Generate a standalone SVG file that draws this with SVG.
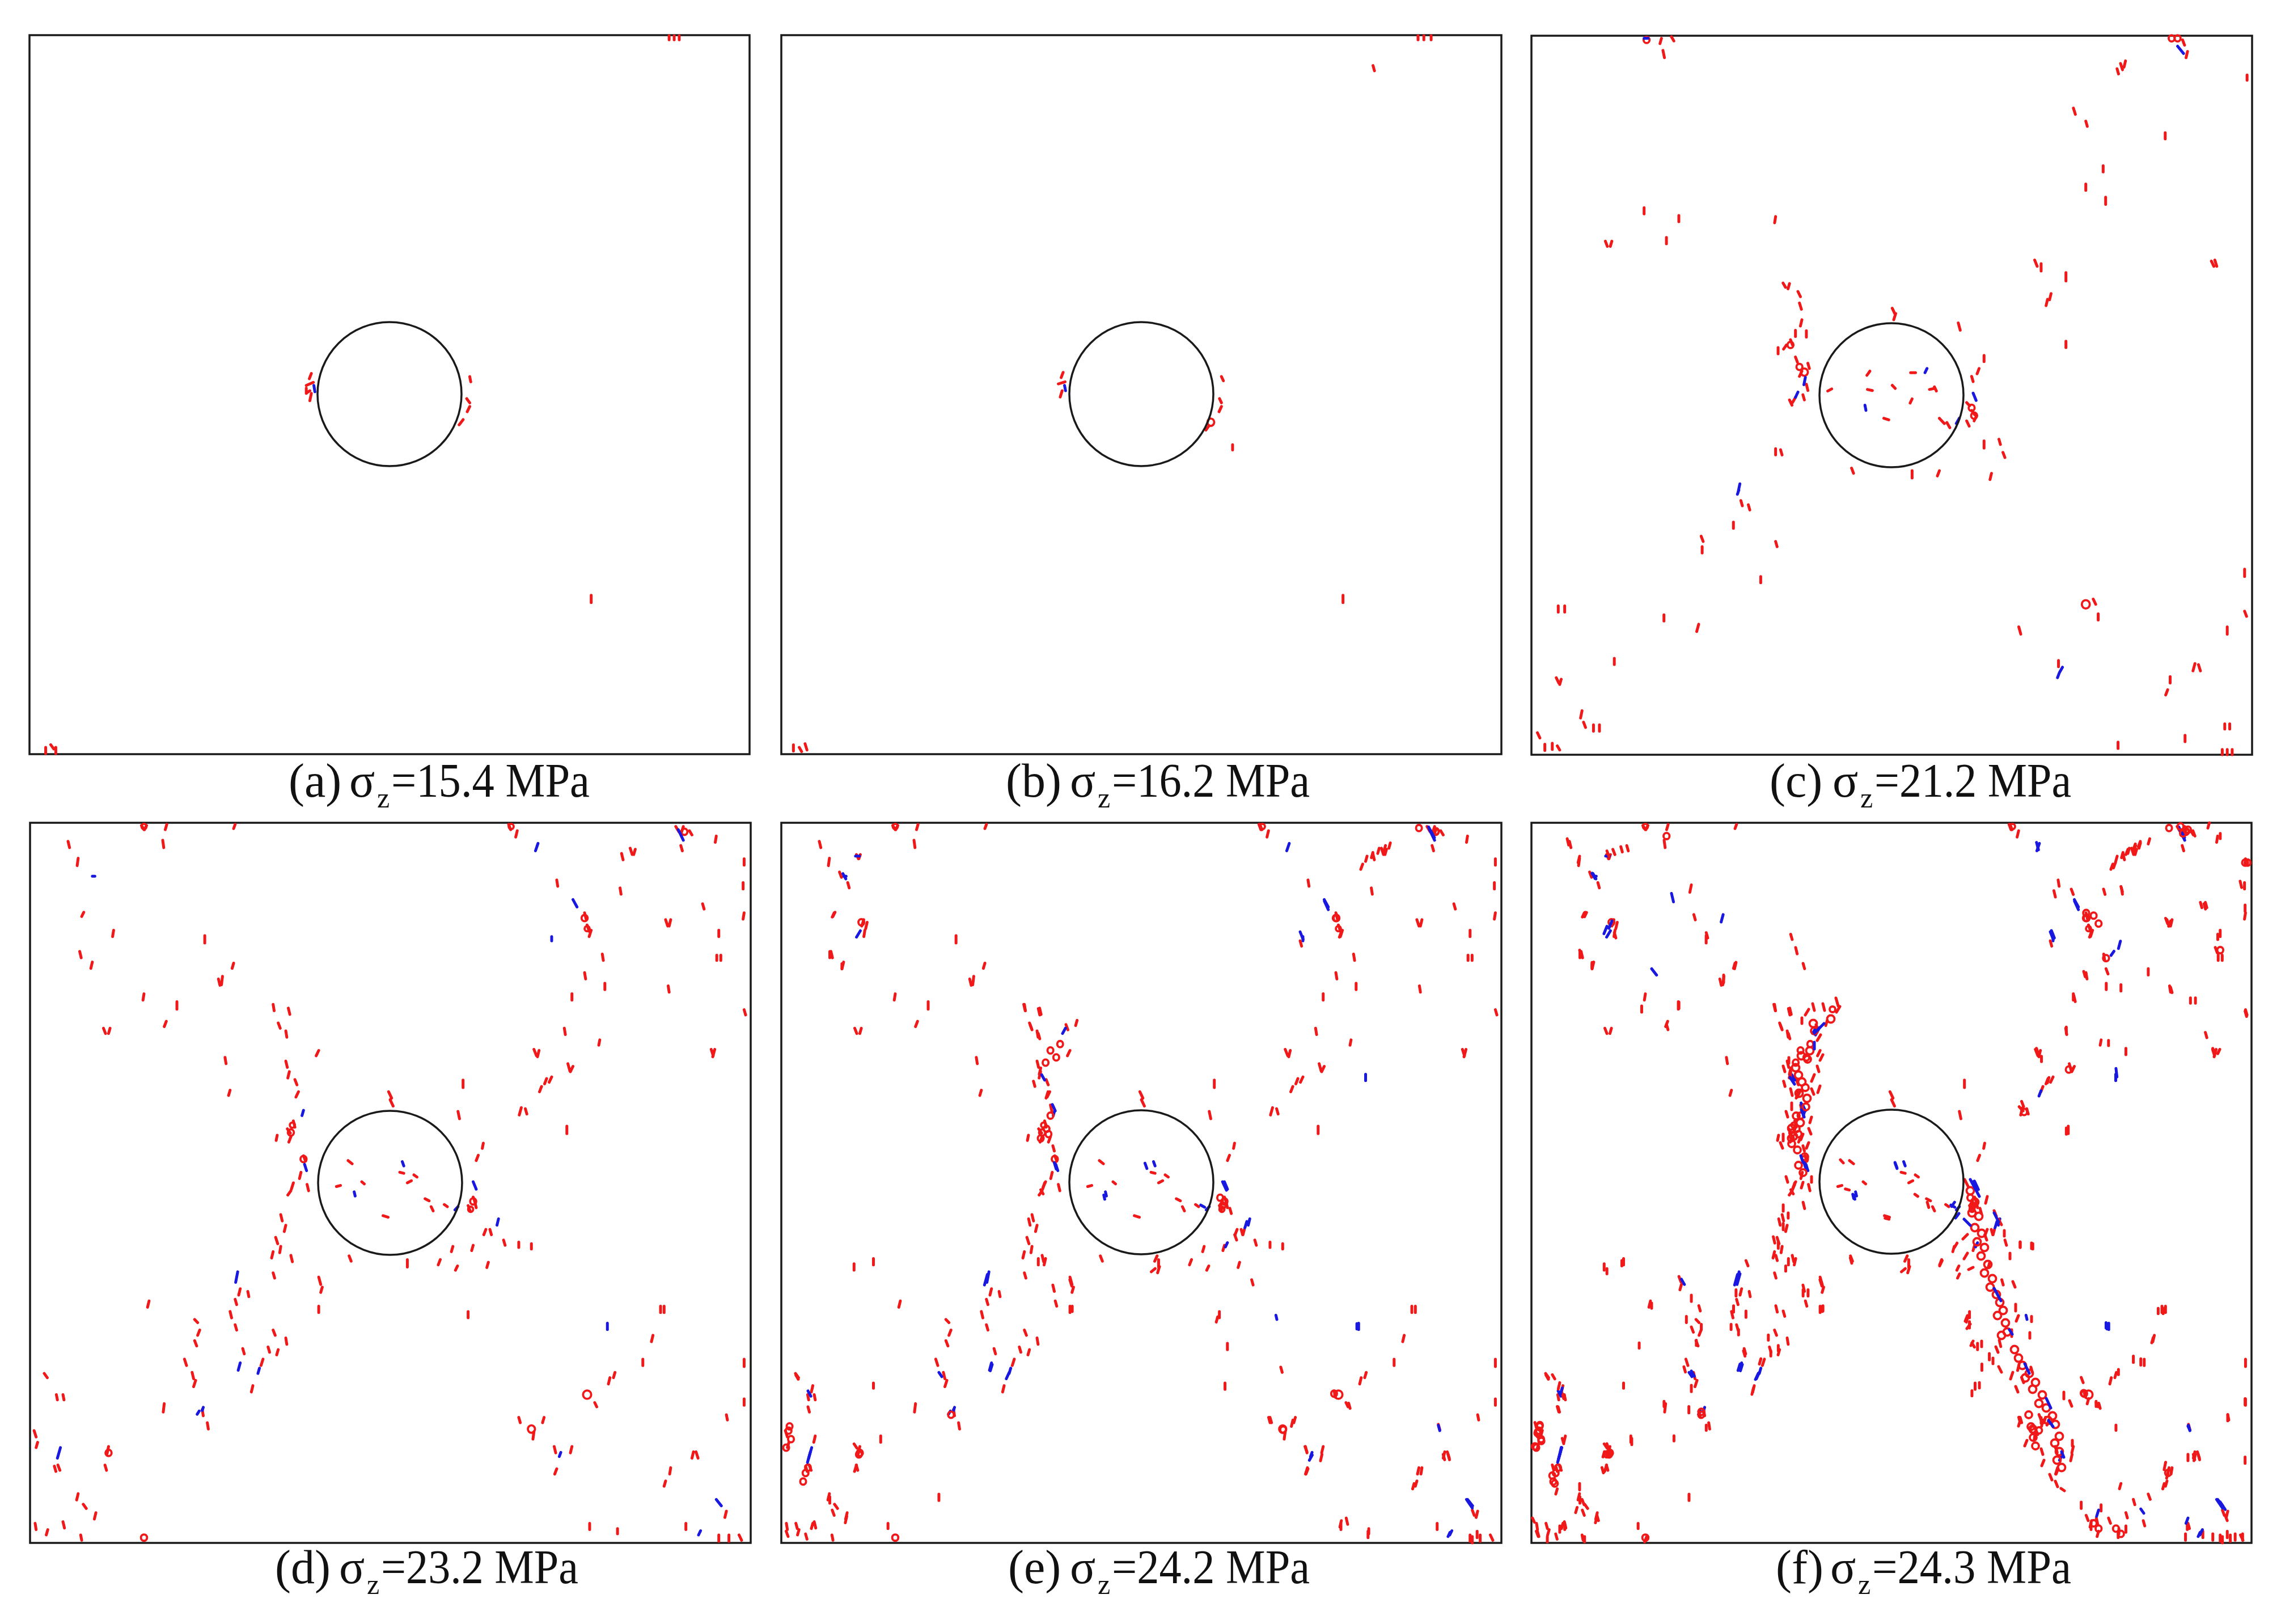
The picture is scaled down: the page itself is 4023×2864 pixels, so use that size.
<svg xmlns="http://www.w3.org/2000/svg" xmlns:xlink="http://www.w3.org/1999/xlink" width="4023" height="2864" viewBox="0 0 4023 2864">
<style>
.fr{fill:none;stroke:#1a1a1a;stroke-width:3.5}
.hole{fill:none;stroke:#1a1a1a;stroke-width:3.5}
.r{fill:none;stroke:#f01818;stroke-width:5;stroke-linecap:round;stroke-linejoin:round;vector-effect:non-scaling-stroke}
.b{fill:none;stroke:#1818e0;stroke-width:5;stroke-linecap:round;vector-effect:non-scaling-stroke}
.o circle{fill:none;stroke:#f01818;stroke-width:3.8;vector-effect:non-scaling-stroke}
.lbl{font-family:"Liberation Serif","Times New Roman",serif;font-size:84px;fill:#111}
.sub{font-size:50px}
</style>
<defs>
<g id="crD">
<path class="r" d="M280 60l5 8M290 60l-4 8M330 58l-3 10M322 88l2 14M465 58l-3 8M1005 58l4 10M1022 70l-3 12M1335 62l6 10M1350 62l-4 12M1362 70l5 8M1345 98l3 10M1415 80l-2 12M135 90l3 12M155 122l-2 14M162 232l4 -8M225 258l-2 12M158 298l3 12M183 318l-3 12M405 268l0 14M440 345l-2 16M432 350l3 12M462 320l-3 10M285 378l-2 12M350 393l0 14M325 440l4 -10M205 443l4 10M218 443l-3 10M540 398l2 12M570 405l3 12M550 433l4 10M565 448l2 12M630 485l-5 10M445 498l2 12M455 560l-3 10M565 505l3 12M572 525l-3 12M583 540l4 10M590 563l-5 10M580 618l3 12M568 633l6 8M575 648l-4 10M548 645l-2 10M600 684l4 10M595 715l-3 12M580 735l-4 12M607 738l3 12M575 750l-6 8M555 795l3 12M565 815l-3 12M545 838l4 12M555 855l-2 12M575 872l3 12M540 865l-3 12M540 905l3 10M630 913l4 14M637 932l-3 10M630 968l0 12M475 935l-3 12M490 940l2 10M465 955l3 10M295 958l-3 12M455 978l3 12M465 1003l3 10M385 993l6 6M395 1013l-4 10M385 1033l4 10M540 1013l4 10M530 1045l3 10M550 1050l-3 10M565 1028l2 12M480 1048l3 10M520 1068l-4 12M500 1118l-3 12M365 1068l4 12M380 1093l3 12M387 1108l-4 12M325 1152l-2 16M400 1163l2 12M410 1188l2 12M88 1095l6 8M112 1135l2 10M125 1135l2 10M68 1203l4 12M75 1225l-3 10M115 1268l4 10M108 1270l3 10M215 1233l-3 14M208 1268l3 10M155 1322l-3 12M165 1342l6 8M190 1358l-3 12M70 1378l2 12M95 1390l-3 10M125 1375l3 12M160 1400l2 10M1100 163l2 12M1155 225l3 12M1160 248l4 12M1168 258l-4 12M1228 113l3 12M1245 103l4 12M1255 105l-3 10M1225 178l2 12M1315 238l4 12M1325 238l-3 12M1388 208l3 10M1420 258l0 12M1416 305l0 10M1424 305l0 10M1470 123l0 12M1468 168l0 12M1470 225l-2 12M1470 408l3 10M1190 303l2 12M1155 338l2 12M1195 358l0 12M1320 363l2 12M1130 378l0 12M1115 443l2 12M1185 465l-2 10M1055 483l5 12M1065 485l-3 12M1122 510l4 14M1132 515l-5 10M1080 538l-4 10M1070 553l-4 10M1090 535l-5 10M1030 593l-4 14M1038 595l3 10M1120 628l0 14M1405 483l4 12M1412 483l-4 14M915 541l0 14M905 600l3 14M955 660l-2 10M945 683l-4 10M935 762l4 10M925 778l4 10M938 770l3 12M960 823l-4 10M968 823l3 10M995 843l3 10M1025 847l0 10M1050 850l0 10M895 855l-3 10M935 853l-3 10M900 900l4 -8M965 885l-3 10M870 880l-4 10M805 880l0 14M690 873l4 10M925 978l0 12M768 563l6 12l-3 3l6 12M688 693l8 6M665 742l8 -2M715 733l5 4M790 715l8 2M805 735l8 -4M818 720l6 4M840 765l8 4M852 780l4 8M878 776l6 4M757 797l10 3M1305 968l0 12M1312 968l0 12M1290 1023l-3 12M1270 1068l0 12M1215 1093l-3 10M1205 1103l-3 12M1175 1150l4 8M1025 1178l3 10M1075 1178l-3 10M1055 1205l-2 14M1095 1233l3 12M1100 1275l-4 10M1130 1233l-3 12M1370 1243l-3 12M1375 1243l4 12M1325 1273l-2 12M1315 1298l-3 10M1435 1355l-3 12M1470 1068l0 14M1470 1143l0 12M1435 1173l2 10M1165 1378l0 12M1220 1388l0 10M1355 1378l0 12M1420 1400l0 12M1440 1400l0 12M1460 1400l5 10"/>
<g class="o"><circle cx="575" cy="640" r="6"/><circle cx="578" cy="626" r="5"/><circle cx="600" cy="690" r="6"/><circle cx="1155" cy="235" r="6"/><circle cx="1160" cy="255" r="5"/><circle cx="1160" cy="1135" r="8"/><circle cx="1050" cy="1200" r="7"/><circle cx="215" cy="1245" r="6"/><circle cx="935" cy="770" r="6"/><circle cx="930" cy="785" r="5"/><circle cx="1010" cy="62" r="5"/><circle cx="1352" cy="72" r="6"/><circle cx="285" cy="62" r="5"/><circle cx="285" cy="1405" r="6"/></g>
<path class="b" d="M1058 108l5 -14M1132 200l8 14M1340 68l10 20M600 598l-3 10M602 700l4 12M935 733l6 14M905 780l-6 6M985 803l-3 12M470 903l-4 20M475 1075l-4 14M510 1095l3 -10M390 1172l4 -6M400 1165l2 -6M120 1235l-6 20M1200 1000l0 12M1105 1252l3 -8M1415 1333l10 12M1380 1400l4 -8M700 752l2 8M795 695l3 8M1090 270l0 8M183 156l5 0"/>
</g>
<g id="crE">
<path class="r" d="M200 112l4 8M208 112l-3 8M165 145l4 10M182 165l3 10M150 230l4 -8M215 235l-4 12M222 240l-3 12M145 295l0 12M170 318l0 10M545 395l3 12M575 403l3 12M558 433l4 10M575 450l3 10M632 433l4 10M655 425l-3 10M580 515l-3 12M565 540l3 10M595 560l-4 12M600 585l3 12M600 645l-4 10M605 662l3 10M590 730l-5 10M580 745l5 8M1250 125l3 -10M1262 118l3 -10M1275 110l3 -10M1288 105l3 -10M1298 100l3 -10M1240 140l4 -10M1395 65l-4 10M1190 225l4 10M1200 258l-4 10M1115 275l3 10M1030 55l4 10M955 765l-4 10M970 780l3 10M1000 820l-3 10M980 830l4 10M815 880l5 -10M808 900l8 -6M825 890l-4 12M1015 915l3 10M945 985l-3 10M965 1035l0 12M960 1110l0 12M1075 1080l3 10M1185 1125l3 12M1215 1148l3 10M1050 1175l3 10M1100 1180l-3 12M1125 1230l4 10M1160 1245l-3 12M1130 1270l-4 12M1410 1245l3 10M1420 1245l3 10M1360 1270l-3 12M1350 1300l-3 10M1400 1188l3 10M1470 1350l4 10M1480 1390l0 12M1470 1400l0 12M1200 1370l-3 12M1210 1365l3 12M1255 1390l0 12M75 1095l5 8M110 1115l-3 12M100 1155l3 10M115 1210l-3 12M145 1325l0 12M150 1350l4 10M180 1362l-3 12M200 1265l-4 12M195 1225l6 8M75 1375l3 10M95 1395l3 10M110 1375l-3 10M55 1390l4 10M250 1210l0 12M370 1320l0 12M265 1375l0 10M235 1110l0 10M195 885l0 12M235 875l0 12M555 800l3 12M575 875l0 12M590 875l-3 12M605 925l3 12M640 915l4 12M645 965l0 10M610 955l3 10"/>
<g class="o"><circle cx="600" cy="482" r="6"/><circle cx="612" cy="495" r="6"/><circle cx="590" cy="505" r="6"/><circle cx="620" cy="470" r="6"/><circle cx="592" cy="630" r="6"/><circle cx="580" cy="648" r="6"/><circle cx="596" cy="640" r="6"/><circle cx="600" cy="605" r="6"/><circle cx="60" cy="1200" r="6"/><circle cx="65" cy="1216" r="6"/><circle cx="55" cy="1232" r="6"/><circle cx="62" cy="1192" r="6"/><circle cx="95" cy="1280" r="6"/><circle cx="90" cy="1296" r="6"/><circle cx="100" cy="1270" r="6"/><circle cx="205" cy="1245" r="6"/><circle cx="210" cy="240" r="6"/><circle cx="1190" cy="232" r="6"/><circle cx="1185" cy="1130" r="6"/><circle cx="1080" cy="1198" r="6"/><circle cx="395" cy="1170" r="6"/><circle cx="955" cy="775" r="6"/><circle cx="950" cy="760" r="6"/><circle cx="1395" cy="68" r="6"/><circle cx="1360" cy="62" r="6"/></g>
<path class="b" d="M198 115l8 0M172 148l6 10M200 268l8 -12M625 450l6 -10M588 538l-6 -10M610 596l-6 -12M612 706l-4 -12M1380 60l12 20M1165 200l8 16M1115 258l6 14M1250 527l0 12M955 730l8 16M918 778l-8 -4M1005 805l-4 12M965 845l-4 8M1065 982l2 8M1232 998l0 10M1140 1246l-6 10M1400 1190l3 10M1458 1330l12 16M1420 1400l4 -8M470 905l-6 20M480 1075l-4 12M515 1090l-6 12M370 1090l6 8M105 1240l-6 20M100 1125l6 10M795 695l4 10M710 755l2 8"/>
</g>
</defs>

<g id="panel-a">
<rect class="fr" x="52" y="62" width="1270" height="1268"/>
<g transform="translate(52,62) scale(0.8925,0.9249) translate(-58,-67)">
<path class="r" d="M1322 68l0 8M1332 68l0 8M1342 68l0 8M615 712l-4 10M605 735l14 -6M612 745l-6 4M615 750l-3 14M605 740l0 10M928 718l2 10M922 760l6 8M928 775l-5 10M915 800l-8 10M1168 1135l0 14M90 1425l0 12M100 1420l6 8M110 1425l0 12"/>
<path class="b" d="M620 735l2 12"/>
</g>
<circle class="hole" cx="687" cy="695" r="127"/>
<text class="lbl" y="1405"><tspan x="509">(a)</tspan><tspan x="616">σ</tspan><tspan class="sub" x="665" dy="19">z</tspan><tspan x="690" dy="-19" textLength="350" lengthAdjust="spacingAndGlyphs">=15.4 MPa</tspan></text>
</g>

<g id="panel-b">
<rect class="fr" x="1378" y="62" width="1270" height="1268"/>
<g transform="translate(1378,62) scale(0.854,0.9249) translate(-43,-67)">
<path class="r" d="M1358 68l0 8M1370 68l0 8M1385 68l0 8M1265 125l3 10M625 710l-4 10M615 732l14 -4M623 745l-4 12M952 718l4 8M948 760l4 8M952 775l-5 10M920 820l6 -8M975 848l0 10M1203 1135l0 14M68 1420l0 12M80 1425l5 8M92 1418l4 12"/>
<g class="o"><circle cx="930" cy="805" r="7"/></g>
<path class="b" d="M628 735l2 10"/>
</g>
<circle class="hole" cx="2013" cy="695" r="127"/>
<text class="lbl" y="1405"><tspan x="1774">(b)</tspan><tspan x="1887">σ</tspan><tspan class="sub" x="1936" dy="19">z</tspan><tspan x="1961" dy="-19" textLength="349" lengthAdjust="spacingAndGlyphs">=16.2 MPa</tspan></text>
</g>

<g id="panel-c">
<rect class="fr" x="2701" y="63" width="1271" height="1268"/>
<g transform="translate(2701,63) scale(0.8753,0.9242) translate(-58,-70)">
<path class="r" d="M320 75l-3 10M340 72l5 8M323 98l3 14M1370 78l4 10M1380 100l-3 12M1245 123l4 12M1255 118l-3 12M1238 133l3 10M1500 145l0 10M1150 208l4 12M1175 233l3 10M1335 255l0 12M1210 318l0 12M1175 353l0 12M1215 378l0 14M285 398l0 12M355 413l0 12M330 455l0 12M207 462l4 10M220 462l-3 10M550 415l-2 12M1072 498l5 12M1085 505l0 14M1135 522l0 16M1105 562l-3 12M1098 573l-3 12M1135 653l0 12M1428 500l5 10M1435 498l4 12M565 542l5 8M578 543l-3 10M595 558l5 10M598 580l4 12M603 612l-3 12M590 632l0 12M612 633l0 12M580 650l4 10M572 660l-6 8M555 665l0 12M590 683l4 10M615 695l3 10M603 710l-5 10M612 735l3 12M590 760l-6 10M578 765l5 10M605 755l3 10M785 590l5 10M792 600l-4 12M918 618l4 14M970 680l0 12M960 705l-4 10M945 720l3 10M935 770l6 6M945 785l6 8M955 795l-5 10M935 805l5 10M970 843l0 14M1000 840l3 10M1008 865l4 10M985 905l-3 12M880 900l-4 10M825 900l0 14M703 895l4 10M550 858l0 12M560 860l3 10M740 710l-6 8M735 745l10 2M785 737l6 6M822 713l10 0M860 745l10 -2M870 740l4 8M825 763l-4 8M768 800l10 3M655 748l8 -4M880 800l10 10M895 808l6 10M480 957l3 10M495 965l3 10M465 998l0 12M400 1025l4 10M402 1045l0 12M550 1035l3 10M520 1102l0 12M112 1158l0 12M125 1158l0 12M325 1175l0 12M395 1193l-4 14M225 1258l0 12M108 1295l5 10M118 1298l-3 10M160 1358l-3 14M163 1380l4 10M183 1385l0 12M195 1385l0 12M70 1400l5 10M85 1422l0 12M100 1420l0 12M110 1425l5 8M1190 1145l5 10M1200 1173l0 12M1040 1198l4 14M1120 1262l0 12M1345 1293l0 12M1340 1318l-4 10M1395 1268l-4 14M1402 1270l4 12M1460 1198l0 14M1495 1088l0 14M1495 1168l4 10M1455 1383l0 10M1465 1383l0 10M1375 1405l0 12M1240 1418l0 12M1450 1432l0 10M1460 1432l0 10M1470 1432l0 10"/>
<g class="o"><circle cx="290" cy="78" r="6"/><circle cx="1348" cy="75" r="6"/><circle cx="1360" cy="75" r="6"/><circle cx="608" cy="712" r="7"/><circle cx="598" cy="702" r="6"/><circle cx="950" cy="795" r="6"/><circle cx="945" cy="780" r="6"/><circle cx="1175" cy="1155" r="8"/><circle cx="580" cy="660" r="6"/></g>
<path class="b" d="M285 75l8 0M1360 90l12 14M610 722l-3 14M595 750l-5 10M948 752l6 14M920 800l-6 10M478 925l-4 18M473 945l3 -8M855 705l-4 8M730 775l2 10M1128 1275l-6 10M1118 1295l4 -10"/>
</g>
<circle class="hole" cx="3336" cy="697" r="127"/>
<text class="lbl" y="1405"><tspan x="3121">(c)</tspan><tspan x="3232">σ</tspan><tspan class="sub" x="3281" dy="19">z</tspan><tspan x="3306" dy="-19" textLength="347" lengthAdjust="spacingAndGlyphs">=21.2 MPa</tspan></text>
</g>

<g id="panel-d">
<rect class="fr" x="53" y="1451" width="1271" height="1270"/>
<g transform="translate(53,1451) scale(0.8932,0.9338) translate(-60,-55)"><use href="#crD"/></g>
<circle class="hole" cx="688" cy="2086" r="127"/>
<text class="lbl" y="2792"><tspan x="485">(d)</tspan><tspan x="598">σ</tspan><tspan class="sub" x="647" dy="19">z</tspan><tspan x="672" dy="-19" textLength="348" lengthAdjust="spacingAndGlyphs">=23.2 MPa</tspan></text>
</g>

<g id="panel-e">
<rect class="fr" x="1378" y="1451" width="1270" height="1270"/>
<g transform="translate(1378,1451) scale(0.8932,0.9338) translate(-60,-55)"><use href="#crD"/></g>
<g transform="translate(1378,1451) scale(0.8552,0.9338) translate(-45,-52)"><use href="#crE"/></g>
<circle class="hole" cx="2013" cy="2085" r="127"/>
<text class="lbl" y="2792"><tspan x="1778">(e)</tspan><tspan x="1887">σ</tspan><tspan class="sub" x="1936" dy="19">z</tspan><tspan x="1961" dy="-19" textLength="349" lengthAdjust="spacingAndGlyphs">=24.2 MPa</tspan></text>
</g>

<g id="panel-f">
<rect class="fr" x="2701" y="1451" width="1270" height="1270"/>
<g transform="translate(2701,1451) scale(0.8932,0.9338) translate(-60,-55)"><use href="#crD"/></g>
<g transform="translate(2701,1451) scale(0.8552,0.9338) translate(-45,-52)"><use href="#crE"/></g>
<g transform="translate(2701,1451) scale(0.8759,0.9359) translate(-58,-55)">
<path class="r" d="M130 85l3 12M155 118l-3 12M210 108l4 10M222 105l4 10M238 100l3 10M250 98l3 10M165 232l4 -8M225 262l3 10M380 172l-3 14M385 228l3 10M410 262l3 10M470 318l-3 12M445 342l0 14M580 265l3 10M590 290l3 12M605 320l3 10M355 393l0 12M330 435l3 10M280 400l0 12M155 295l3 10M180 318l0 10M1110 183l3 12M1145 180l4 10M1210 180l3 10M1245 175l3 10M1230 140l4 -10M1255 115l4 -10M1270 105l4 -10M1280 100l4 -10M1300 95l3 -10M1390 70l4 10M1420 65l3 -10M1445 75l0 10M1335 235l4 10M1345 240l-4 10M1405 205l3 10M1415 205l3 10M1440 265l0 10M1485 165l3 12M1495 210l0 12M1435 290l4 10M1215 330l4 10M1245 360l0 12M1170 335l3 10M1150 380l3 12M1300 330l0 12M1345 365l3 10M1385 385l0 10M1395 385l0 10M1495 410l3 10M1415 450l3 10M1430 480l4 10M1440 490l4 -8M1135 440l0 12M1220 465l0 10M1255 480l0 12M1075 480l4 12M1085 495l0 10M1100 535l-3 10M1045 580l4 10M1040 590l8 8M1135 630l0 12M680 690l6 6M690 745l8 2M830 755l6 4M855 770l3 10M770 800l8 2M700 875l3 10M885 880l-5 10M910 855l5 -8M920 905l-4 8M940 995l0 12M945 1035l5 8M1000 1030l3 12M980 1055l0 12M965 1075l0 12M1040 1075l-3 12M1065 985l0 10M1045 1100l4 10M1040 1175l4 10M1080 1170l4 10M1100 1180l-4 10M960 1110l0 10M945 1125l0 10M1165 1100l4 10M1170 1125l3 10M1180 1140l-3 10M1195 1145l0 10M1240 1085l0 10M1235 1190l0 10M1270 1060l0 12M1310 1025l-3 10M1285 1065l0 12M1320 970l0 10M1330 970l0 10M1335 1260l-3 14M1340 1280l-3 10M1380 1245l0 12M1395 1245l-3 12M1460 1170l0 12M1495 1140l0 12M1495 1250l0 12M1455 1360l4 10M1380 1375l3 10M1375 1395l0 12M1300 1320l4 10M1270 1330l3 10M1255 1355l3 10M1290 1370l3 10M1165 1335l0 12M1175 1360l4 10M1205 1340l0 12M1220 1365l4 10M1255 1380l0 12M1200 1390l-3 10M1245 1300l-3 10M1410 1390l0 12M1430 1395l0 12M1475 1395l0 12M1490 1395l0 12M100 1095l5 8M115 1110l-3 12M120 1130l3 10M110 1155l3 10M65 1185l3 10M80 1200l-3 10M120 1215l3 10M100 1265l3 10M110 1310l-3 10M155 1300l0 12M160 1330l4 10M150 1345l-3 10M190 1360l3 10M210 1225l3 10M205 1240l-3 10M200 1270l3 10M260 1215l0 12M275 1035l0 10M300 960l0 10M210 895l0 10M240 880l0 10M355 910l4 10M360 925l-3 10M380 945l0 12M395 965l3 10M370 985l0 12M380 1005l4 10M400 1000l0 10M390 1030l0 10M365 1080l3 10M380 1115l0 12M375 1155l0 12M395 1165l3 10M410 1190l0 10M345 1210l0 10M325 1145l0 10M470 935l0 12M465 965l0 12M490 975l0 12M460 1000l0 10M475 1010l0 10M490 880l4 10M535 1020l0 10M540 1050l0 10M555 1040l0 10M485 1050l3 10M520 1065l-3 10M505 1120l-3 12M550 965l3 12M565 975l3 10M605 935l0 12M615 935l0 12M640 915l4 12M645 965l0 10M545 835l3 12M555 845l0 12M565 810l0 12M550 870l3 10M570 890l0 10M605 770l3 12M575 790l0 10M565 775l0 12M70 1390l3 10M90 1400l0 10M115 1380l0 12M125 1375l0 12M165 1400l0 10M290 1400l-4 10M60 1365l4 8"/>
<g class="o"><circle cx="1190" cy="230" r="6"/><circle cx="1200" cy="245" r="6"/><circle cx="1175" cy="225" r="6"/><circle cx="1215" cy="310" r="6"/><circle cx="1445" cy="295" r="6"/><circle cx="1500" cy="130" r="6"/><circle cx="1170" cy="1130" r="6"/><circle cx="1080" cy="1200" r="6"/><circle cx="1050" cy="600" r="6"/><circle cx="1140" cy="520" r="6"/><circle cx="75" cy="1190" r="6"/><circle cx="70" cy="1205" r="6"/><circle cx="78" cy="1220" r="6"/><circle cx="65" cy="1230" r="6"/><circle cx="100" cy="1285" r="6"/><circle cx="105" cy="1300" r="6"/><circle cx="210" cy="1245" r="6"/><circle cx="400" cy="1165" r="6"/><circle cx="1190" cy="1375" r="6"/><circle cx="1200" cy="1385" r="6"/><circle cx="1235" cy="1385" r="6"/><circle cx="1245" cy="1395" r="6"/><circle cx="1365" cy="62" r="6"/><circle cx="1380" cy="68" r="6"/><circle cx="1370" cy="75" r="6"/><circle cx="330" cy="80" r="6"/><circle cx="1340" cy="1280" r="6"/><circle cx="1495" cy="130" r="6"/></g>
<path class="b" d="M300 330l10 12M340 188l4 16M440 242l4 -14M210 250l-6 14M220 240l-6 14M180 150l6 10M1075 92l4 14M1105 258l6 14M1240 292l4 -14M1225 305l6 -8M1235 518l2 16M1080 570l4 -10M1215 997l0 10M1380 1192l4 8M1445 1335l10 14M1285 1348l6 8M1200 1350l-4 12M1405 1395l4 -8M1380 1365l-4 10M118 1232l-6 24M120 1120l-4 12M380 1088l6 10M478 1075l-4 12M515 1092l-6 12M360 915l6 10M478 905l-6 20M950 730l8 16M910 770l-6 8M585 540l-6 -10M605 595l-4 -12M610 705l-4 -12M630 455l8 -14M790 695l4 10M705 755l2 8"/>
</g>
<g id="band-left">
<path class="r" d="M3238 1760l4 14M3245 1775l-6 10M3215 1770l3 12M3190 1780l-6 10M3197 1770l3 12M3178 1795l0 10M3205 1835l6 -10M3215 1860l-5 10M3205 1880l3 10M3200 1895l-5 12M3155 1865l0 10M3158 1890l0 10M3145 1880l3 10M3195 1920l4 10M3210 1915l-4 12M3158 1920l3 12M3160 1945l0 12M3150 1960l3 10M3195 1970l-3 10M3190 1990l4 10M3180 2000l-4 10M3145 2000l0 12M3140 2015l4 10M3190 2015l-4 10M3180 2085l-3 10M3165 2090l-5 10M3195 2075l0 10M3150 2075l3 10"/>
<g class="o"><circle cx="3229" cy="1797" r="6.5"/><circle cx="3232" cy="1780" r="5"/><circle cx="3198" cy="1805" r="6.5"/><circle cx="3200" cy="1818" r="6"/><circle cx="3192" cy="1853" r="6.5"/><circle cx="3177" cy="1862" r="6.5"/><circle cx="3188" cy="1868" r="6"/><circle cx="3167" cy="1883" r="6.5"/><circle cx="3172" cy="1896" r="6.5"/><circle cx="3178" cy="1908" r="6.5"/><circle cx="3184" cy="1918" r="6"/><circle cx="3173" cy="1928" r="6.5"/><circle cx="3187" cy="1937" r="6.5"/><circle cx="3185" cy="1952" r="6"/><circle cx="3175" cy="1980" r="6.5"/><circle cx="3168" cy="1968" r="6"/><circle cx="3160" cy="1990" r="6.5"/><circle cx="3163" cy="2004" r="6.5"/><circle cx="3160" cy="2017" r="6"/><circle cx="3170" cy="2028" r="6"/><circle cx="3183" cy="2040" r="6"/><circle cx="3172" cy="2055" r="6"/><circle cx="3180" cy="2068" r="6"/></g>
<path class="b" d="M3200 1822l17 -17M3200 1838l0 12M3157 1900l8 12M3177 1957l5 13M3180 2050l-4 -12"/>
</g>
<g id="band-right">
<path class="r" d="M3465 2080l6 12M3505 2110l-3 12M3517 2135l4 10M3525 2150l5 10M3535 2170l0 10M3462 2185l8 -8M3470 2210l-6 10M3480 2235l-8 4M3545 2210l0 10M3563 2190l0 10M3583 2192l0 10M3550 2260l4 10M3555 2300l0 12M3560 2320l-4 10M3470 2320l-4 10M3475 2335l-6 8M3480 2365l-4 8M3495 2365l0 10M3520 2375l4 10M3548 2345l0 12M3580 2350l0 10M3515 2395l0 10M3525 2410l5 10M3550 2420l-4 12M3555 2445l4 10M3563 2505l-3 10M3590 2520l4 10M3575 2540l-4 10M3600 2555l3 10M3605 2575l-4 10M3615 2600l4 10M3625 2612l4 10M3635 2625l6 4M3655 2540l0 10M3650 2470l4 10M3640 2455l0 12M3600 2500l0 10"/>
<g class="o"><circle cx="3475" cy="2100" r="6.5"/><circle cx="3483" cy="2120" r="6.5"/><circle cx="3478" cy="2139" r="6.5"/><circle cx="3490" cy="2145" r="6.5"/><circle cx="3483" cy="2165" r="6.5"/><circle cx="3495" cy="2175" r="6.5"/><circle cx="3487" cy="2190" r="6.5"/><circle cx="3500" cy="2200" r="6.5"/><circle cx="3494" cy="2215" r="6.5"/><circle cx="3506" cy="2230" r="6.5"/><circle cx="3500" cy="2245" r="6.5"/><circle cx="3514" cy="2255" r="6.5"/><circle cx="3510" cy="2270" r="6.5"/><circle cx="3521" cy="2283" r="6.5"/><circle cx="3527" cy="2297" r="6.5"/><circle cx="3533" cy="2311" r="6.5"/><circle cx="3523" cy="2320" r="6.5"/><circle cx="3537" cy="2333" r="6.5"/><circle cx="3540" cy="2349" r="6.5"/><circle cx="3530" cy="2355" r="6.5"/><circle cx="3553" cy="2380" r="6.5"/><circle cx="3560" cy="2395" r="6.5"/><circle cx="3567" cy="2408" r="6.5"/><circle cx="3579" cy="2422" r="6.5"/><circle cx="3572" cy="2430" r="6.5"/><circle cx="3590" cy="2438" r="6.5"/><circle cx="3585" cy="2450" r="6.5"/><circle cx="3602" cy="2460" r="6.5"/><circle cx="3596" cy="2475" r="6.5"/><circle cx="3609" cy="2483" r="6.5"/><circle cx="3620" cy="2497" r="6.5"/><circle cx="3612" cy="2505" r="6.5"/><circle cx="3625" cy="2512" r="6.5"/><circle cx="3632" cy="2533" r="6.5"/><circle cx="3624" cy="2545" r="6.5"/><circle cx="3632" cy="2560" r="6.5"/><circle cx="3628" cy="2575" r="6.5"/><circle cx="3636" cy="2588" r="6.5"/><circle cx="3582" cy="2516" r="6"/><circle cx="3586" cy="2535" r="6"/><circle cx="3578" cy="2495" r="6"/><circle cx="3590" cy="2550" r="6"/></g>
<path class="b" d="M3475 2080l16 30M3464 2150l11 11M3517 2272l12 22M3544 2345l5 8M3571 2405l8 17M3609 2466l8 17M3613 2505l8 11M3636 2560l4 10M3517 2139l8 16M3455 2140l-6 8"/>
</g>
<circle class="hole" cx="3336" cy="2084" r="127"/>
<text class="lbl" y="2792"><tspan x="3132">(f)</tspan><tspan x="3228">σ</tspan><tspan class="sub" x="3277" dy="19">z</tspan><tspan x="3302" dy="-19" textLength="351" lengthAdjust="spacingAndGlyphs">=24.3 MPa</tspan></text>
</g>
</svg>
